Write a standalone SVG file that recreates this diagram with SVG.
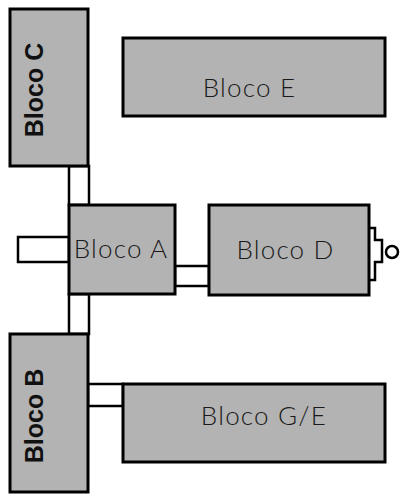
<svg xmlns="http://www.w3.org/2000/svg" width="408" height="494" viewBox="0 0 408 494">
<style>
.blk{fill:#b3b3b3;stroke:#000;stroke-width:3}
.con{fill:#fff;stroke:#000;stroke-width:2.5}
.lt{font-family:Lato,"Liberation Sans",sans-serif;font-weight:300;font-size:26px;letter-spacing:1.2px;fill:#1a1a1a;text-anchor:middle}
.bd{font-family:"Liberation Sans",Arial,sans-serif;font-weight:bold;font-size:25px;fill:#111;text-anchor:middle}
</style>
<rect width="408" height="494" fill="#fff"/>
<g id="connectors">
<rect class="con" x="69" y="166" width="20" height="39"/>
<rect class="con" x="69" y="294" width="20" height="40"/>
<rect class="con" x="18" y="237" width="51" height="25"/>
<rect class="con" x="175" y="266" width="34" height="20"/>
<rect class="con" x="88" y="384" width="35" height="22"/>
<path d="M369,228 H375 V240 H382 V262 H375 V280 H369" fill="none" stroke="#000" stroke-width="2.5"/>
<circle cx="392" cy="252" r="6" fill="#fff" stroke="#000" stroke-width="2.5"/>
</g>
<g id="blocoC"><rect class="blk" x="10" y="9" width="78" height="157"/><text class="bd" transform="translate(43,90) rotate(-90)">Bloco C</text></g>
<g id="blocoE"><rect class="blk" x="123" y="38" width="262" height="78"/><text class="lt" x="249.5" y="97">Bloco E</text></g>
<g id="blocoA"><rect class="blk" x="69" y="205" width="106" height="89"/><text class="lt" x="121" y="258">Bloco A</text></g>
<g id="blocoD"><rect class="blk" x="209" y="205" width="160" height="90"/><text class="lt" x="285.5" y="259">Bloco D</text></g>
<g id="blocoB"><rect class="blk" x="10" y="334" width="78" height="158"/><text class="bd" transform="translate(43,416) rotate(-90)">Bloco B</text></g>
<g id="blocoG"><rect class="blk" x="123" y="384" width="262" height="78"/><text class="lt" x="264" y="425">Bloco G/E</text></g>
</svg>
